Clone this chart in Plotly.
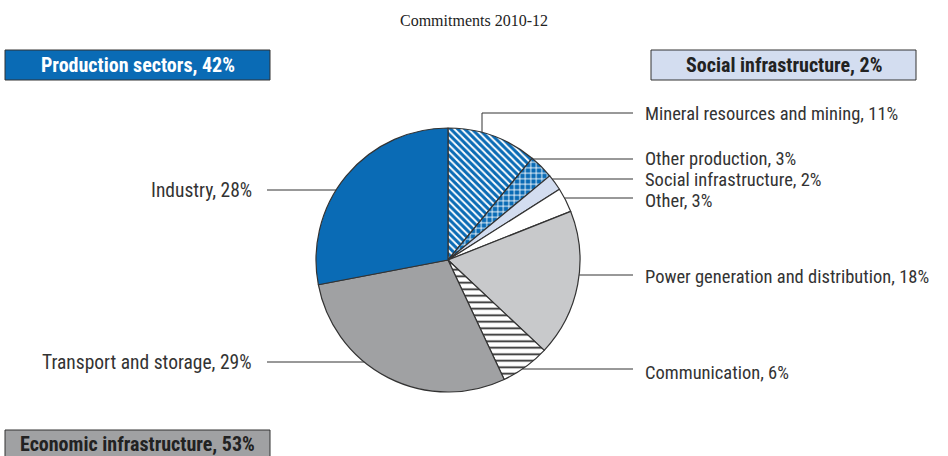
import math
import plotly.graph_objects as go

# ---- data -------------------------------------------------------------
sectors = [
    "Mineral resources and mining",
    "Other production",
    "Social infrastructure",
    "Other",
    "Power generation and distribution",
    "Communication",
    "Transport and storage",
    "Industry",
]
shares = [11, 3, 2, 3, 18, 6, 29, 28]

production_group = ["Mineral resources and mining", "Other production", "Industry"]
economic_group = ["Power generation and distribution", "Communication", "Transport and storage"]
social_group = ["Social infrastructure"]

subtitle = "Commitments 2010-12"

# ---- styling ----------------------------------------------------------
W, H = 948, 456
BLUE = "#0A6BB5"
SOCIAL = "#D3DDF0"
POWER = "#C8C9CB"
TRANSPORT = "#A0A1A3"
LINE = "#333333"
TEXT = "#333333"
LABEL_FONT = "Liberation Sans Narrow, Arial Narrow, Roboto Condensed, Liberation Sans, sans-serif"

fill = [BLUE, BLUE, SOCIAL, "white", POWER, "white", TRANSPORT, BLUE]
pat_shape = ["\\", "+", "", "", "", "-", "", ""]
pat_fg = ["white", "white", SOCIAL, "white", POWER, "#222222", TRANSPORT, BLUE]
pat_size = [5, 5.5, 8, 8, 8, 6.5, 8, 8]
pat_solid = [0.38, 0.3, 0.2, 0.2, 0.2, 0.26, 0.2, 0.2]

# pie geometry in pixels
CX, CY, R = 448, 260, 132


def px(x):
    return x / W


def py(y):
    return 1 - y / H


fig = go.Figure()
fig.add_trace(go.Pie(
    labels=sectors,
    values=shares,
    sort=False,
    direction="clockwise",
    rotation=0,
    textinfo="none",
    hoverinfo="label+percent",
    showlegend=False,
    marker=dict(
        colors=fill,
        line=dict(color=LINE, width=1.2),
        pattern=dict(shape=pat_shape, fgcolor=pat_fg, bgcolor=fill,
                     size=pat_size, solidity=pat_solid, fillmode="replace"),
    ),
    domain=dict(x=[px(CX - R), px(CX + R)], y=[py(CY + R), py(CY - R)]),
))

# leader-line placement (pixel y of each horizontal leader)
right_lines = {
    "Mineral resources and mining": 113,
    "Other production": 159,
    "Social infrastructure": 179,
    "Other": 198,
    "Power generation and distribution": 275,
    "Communication": 369,
}
right_text_y = {
    "Mineral resources and mining": 114,
    "Other production": 159,
    "Social infrastructure": 180,
    "Other": 201,
    "Power generation and distribution": 277,
    "Communication": 373,
}
left_lines = {"Industry": 190, "Transport and storage": 362}

shapes = []
annotations = []
share_of = dict(zip(sectors, shares))

for name, ly in right_lines.items():
    label = f"{name}, {share_of[name]}%"
    if name == "Mineral resources and mining":
        # elbow: rises from the slice's rim, then runs to the label
        ex = 482
        ey = CY - math.sqrt(R * R - (ex - CX) ** 2)
        shapes.append(dict(type="line", xref="paper", yref="paper",
                           x0=px(ex), y0=py(ey), x1=px(ex), y1=py(ly),
                           line=dict(color=LINE, width=1)))
        x_start = ex
    else:
        x_start = CX + math.sqrt(max(R * R - (ly - CY) ** 2, 0))
    shapes.append(dict(type="line", xref="paper", yref="paper",
                       x0=px(x_start), y0=py(ly), x1=px(633), y1=py(ly),
                       line=dict(color=LINE, width=1)))
    annotations.append(dict(xref="paper", yref="paper", x=px(643), y=py(right_text_y[name]),
                            text=label, showarrow=False, xanchor="left", yanchor="middle",
                            font=dict(family=LABEL_FONT, size=18.5, color=TEXT)))

for name, ly in left_lines.items():
    label = f"{name}, {share_of[name]}%"
    x_end = CX - math.sqrt(R * R - (ly - CY) ** 2)
    shapes.append(dict(type="line", xref="paper", yref="paper",
                       x0=px(267), y0=py(ly), x1=px(x_end), y1=py(ly),
                       line=dict(color=LINE, width=1)))
    annotations.append(dict(xref="paper", yref="paper", x=px(254), y=py(ly),
                            text=label, showarrow=False, xanchor="right", yanchor="middle",
                            font=dict(family=LABEL_FONT, size=19.5, color=TEXT)))

# group boxes
groups = [
    ("Production sectors", production_group, (5, 50, 270, 80), BLUE, "white"),
    ("Social infrastructure", social_group, (651, 50, 916, 80), SOCIAL, "#222222"),
    ("Economic infrastructure", economic_group, (5, 430, 270, 462), TRANSPORT, "#222222"),
]
for title, members, (x0, y0, x1, y1), bg, fg in groups:
    total = sum(share_of[m] for m in members)
    shapes.append(dict(type="rect", xref="paper", yref="paper",
                       x0=px(x0), y0=py(y1), x1=px(x1), y1=py(y0),
                       fillcolor=bg, line=dict(color=LINE, width=1), layer="above"))
    text_y = (y0 + 456) / 2 + 1 if y1 > 456 else (y0 + y1) / 2
    annotations.append(dict(xref="paper", yref="paper", x=px((x0 + x1) / 2), y=py(text_y),
                            text=f"<b>{title}, {total}%</b>", showarrow=False,
                            xanchor="center", yanchor="middle",
                            font=dict(family=LABEL_FONT, size=20, color=fg)))

annotations.append(dict(xref="paper", yref="paper", x=px(474), y=py(21), text=subtitle,
                        showarrow=False, xanchor="center", yanchor="middle",
                        font=dict(family="Liberation Serif, DejaVu Serif, serif", size=16, color="#222222")))

fig.update_layout(
    width=W, height=H,
    margin=dict(l=0, r=0, t=0, b=0),
    paper_bgcolor="white",
    plot_bgcolor="white",
    shapes=shapes,
    annotations=annotations,
)

fig.write_html("out.html")
